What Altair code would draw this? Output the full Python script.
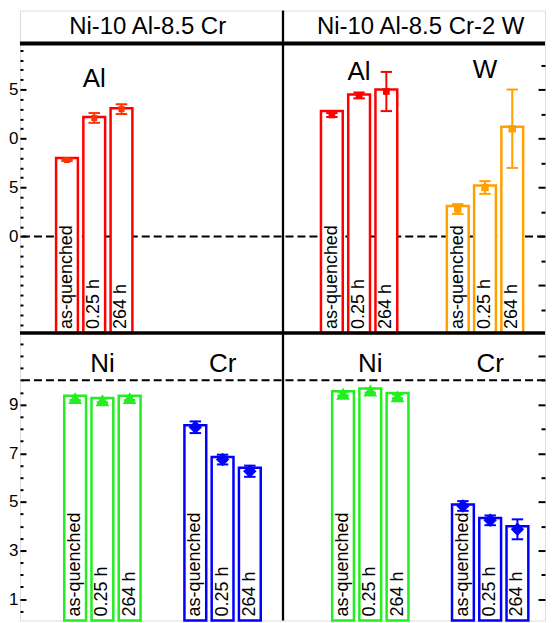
import altair as alt
import pandas as pd

# ---------------- data ----------------
alloys = ["Ni-10 Al-8.5 Cr", "Ni-10 Al-8.5 Cr-2 W"]
times = ["as-quenched", "0.25 h", "264 h"]

# Ni-10Al-8.5Cr : Al
al_cr_bar = [1.80, 2.22, 2.31]
al_cr_mean = [1.78, 2.21, 2.30]
al_cr_err = [0.01, 0.05, 0.05]
# Ni-10Al-8.5Cr-2W : Al, W
al_w_bar = [2.28, 2.45, 2.50]
al_w_mean = [2.24, 2.44, 2.48]
al_w_err = [0.02, 0.03, 0.20]
w_w_bar = [1.31, 1.52, 2.12]
w_w_mean = [1.28, 1.50, 2.10]
w_w_err = [0.05, 0.065, 0.40]
# Ni-10Al-8.5Cr : Ni, Cr
ni_cr_bar = [0.937, 0.927, 0.937]
ni_cr_mean = [0.927, 0.918, 0.927]
ni_cr_err = [0.008, 0.008, 0.008]
cr_cr_bar = [0.815, 0.685, 0.640]
cr_cr_mean = [0.807, 0.674, 0.626]
cr_cr_err = [0.024, 0.020, 0.023]
# Ni-10Al-8.5Cr-2W : Ni, Cr
ni_w_bar = [0.955, 0.966, 0.948]
ni_w_mean = [0.945, 0.958, 0.934]
ni_w_err = [0.008, 0.008, 0.008]
cr_w_bar = [0.489, 0.434, 0.400]
cr_w_mean = [0.483, 0.424, 0.387]
cr_w_err = [0.020, 0.020, 0.041]

top_tick_values = [0.1, 0.2, 0.3, 0.4, 0.5, 0.6, 0.7, 0.8, 0.9, 1.0, 1.1, 1.2, 1.3, 1.4,
                   1.5, 1.6, 1.7, 1.8, 1.9, 2.0, 2.1, 2.2, 2.3, 2.4, 2.5, 2.6, 2.7, 2.8, 2.9]
top_tick_labels = [1.0, 1.5, 2.0, 2.5]
top_right_ticks = [0.25, 0.5, 0.75, 1.0, 1.25, 1.5, 1.75, 2.0, 2.25, 2.5, 2.75]
top_right_major = [0.5, 1.0, 1.5, 2.0, 2.5]
bottom_tick_values = [0.05, 0.1, 0.15, 0.2, 0.25, 0.3, 0.35, 0.4, 0.45, 0.5, 0.55, 0.6,
                      0.65, 0.7, 0.75, 0.8, 0.85, 0.9, 0.95, 1.0, 1.05, 1.1, 1.15]
bottom_tick_labels = [0.1, 0.3, 0.5, 0.7, 0.9]
bottom_right_ticks = [0.1, 0.2, 0.3, 0.4, 0.5, 0.6, 0.7, 0.8, 0.9, 1.0, 1.1]
bottom_right_major = [0.1, 0.3, 0.5, 0.7, 0.9, 1.1]
reference_level = [1.0]

# ---------------- layout / style ----------------
W = 526
H_TITLE, H_TOP, H_BOT = 33, 290, 288
X_DOMAIN = [0.165, 19.432]
DIVIDER = 9.817
TITLE_X = [4.85, 14.87]
TOP_DOMAIN = [0.015, 2.97]
BOT_DOMAIN = [0.012, 1.195]
BAR_HALF = 0.40
CAP_HALF = 0.21
FONT = "Liberation Sans"

RED, ORANGE, GREEN, BLUE = "#ff0000", "#ffa000", "#22ee22", "#0000ff"

top_groups = [
    # element, bars, means, errs, color, error colour, shape, size, first slot, label y
    ("Al", al_cr_bar, al_cr_mean, al_cr_err, RED, "#ff3300", "square", 36, 1.89, 2.61),
    ("Al", al_w_bar, al_w_mean, al_w_err, RED, RED, "square", 45, 11.61, 2.68),
    ("W", w_w_bar, w_w_mean, w_w_err, ORANGE, ORANGE, "square", 55, 16.23, 2.70),
]
bottom_groups = [
    ("Ni", ni_cr_bar, ni_cr_mean, ni_cr_err, GREEN, GREEN, "triangle-up", 190, 2.19, 1.066),
    ("Cr", cr_cr_bar, cr_cr_mean, cr_cr_err, BLUE, BLUE, "diamond", 180, 6.60, 1.066),
    ("Ni", ni_w_bar, ni_w_mean, ni_w_err, GREEN, GREEN, "triangle-up", 190, 12.02, 1.066),
    ("Cr", cr_w_bar, cr_w_mean, cr_w_err, BLUE, BLUE, "diamond", 180, 16.42, 1.066),
]


def build(groups):
    rows, labels = [], []
    for el, bars, means, errs, col, ecol, shape, size, start, ly in groups:
        for i, t in enumerate(times):
            xc = start + i
            rows.append(dict(element=el, time=t, xc=xc, x0=xc - BAR_HALF, x1=xc + BAR_HALF,
                             c0=xc - CAP_HALF, c1=xc + CAP_HALF, bar=bars[i], mean=means[i],
                             lo=means[i] - errs[i], hi=means[i] + errs[i], base=0.0,
                             color=col, ecolor=ecol, shape=shape, size=size))
        labels.append(dict(element=el, xc=start + 1, ly=ly))
    return pd.DataFrame(rows), pd.DataFrame(labels)


x_scale = alt.Scale(domain=X_DOMAIN, nice=False, zero=False)


def is_in(vals):
    return "(" + " || ".join(f"abs(datum.value - {v}) < 0.001" for v in vals) + ")"


def row_chart(groups, domain, tick_vals, tick_labels, right_ticks, right_major, height,
              top_rule_width):
    df, lab = build(groups)
    ys = alt.Scale(domain=domain, nice=False, zero=False, clamp=True)
    left_axis = alt.Axis(
        orient="left", values=tick_vals,
        labelExpr=f"{is_in(tick_labels)} ? slice(format(datum.value, '.1f'), -1) : ''",
        tickSize={"condition": {"test": is_in(tick_labels), "value": -6}, "value": -3},
        tickWidth=2, tickColor="black", domain=False, grid=False, labelFontSize=17,
        labelFont=FONT, labelColor="black", labelPadding=8, labelOverlap=False,
        labelFlush=False, title=None)
    right_axis = alt.Axis(
        orient="right", values=right_ticks, labels=False,
        tickSize={"condition": {"test": is_in(right_major), "value": -7}, "value": -4},
        tickWidth=2, tickColor="black", domain=False, grid=False, title=None)
    base = alt.Chart(df)
    ref = alt.Chart(pd.DataFrame({"y": reference_level})).mark_rule(
        color="black", strokeWidth=2, strokeDash=[8, 4]).encode(
        y=alt.Y("y:Q", scale=ys, axis=None))
    divider = alt.Chart(pd.DataFrame({"x": [DIVIDER]})).mark_rule(
        color="black", strokeWidth=2.3).encode(x=alt.X("x:Q", scale=x_scale, axis=None))
    bars = base.mark_rect(fill="white", strokeWidth=2.5).encode(
        x=alt.X("x0:Q", scale=x_scale, axis=None), x2="x1:Q",
        y=alt.Y("bar:Q", scale=ys, axis=left_axis), y2="base:Q",
        stroke=alt.Stroke("color:N", scale=None))
    tlabels = base.mark_text(angle=270, align="left", baseline="middle", dx=4,
                             fontSize=18, font=FONT, color="black").encode(
        x=alt.X("xc:Q", scale=x_scale, axis=None),
        y=alt.Y("base:Q", scale=ys, axis=None), text="time:N")
    ebar = base.mark_rule(strokeWidth=2).encode(
        x=alt.X("xc:Q", scale=x_scale, axis=None),
        y=alt.Y("lo:Q", scale=ys, axis=None), y2="hi:Q",
        color=alt.Color("ecolor:N", scale=None))
    cap_lo = base.mark_rule(strokeWidth=2).encode(
        x=alt.X("c0:Q", scale=x_scale, axis=None), x2="c1:Q",
        y=alt.Y("lo:Q", scale=ys, axis=None), color=alt.Color("ecolor:N", scale=None))
    cap_hi = base.mark_rule(strokeWidth=2).encode(
        x=alt.X("c0:Q", scale=x_scale, axis=None), x2="c1:Q",
        y=alt.Y("hi:Q", scale=ys, axis=None), color=alt.Color("ecolor:N", scale=None))
    marks = base.mark_point(filled=True, opacity=1).encode(
        x=alt.X("xc:Q", scale=x_scale, axis=None),
        y=alt.Y("mean:Q", scale=ys, axis=right_axis),
        color=alt.Color("ecolor:N", scale=None),
        shape=alt.Shape("shape:N", scale=None),
        size=alt.Size("size:Q", scale=None))
    elabels = alt.Chart(lab).mark_text(fontSize=26, font=FONT, color="black",
                                       align="center", baseline="middle").encode(
        x=alt.X("xc:Q", scale=x_scale, axis=None),
        y=alt.Y("ly:Q", scale=ys, axis=None), text="element:N")
    edge = alt.Chart(pd.DataFrame({"k": [0]})).mark_rule(
        color="black", strokeWidth=top_rule_width).encode(y=alt.value(0))
    return alt.layer(ref, divider, bars, tlabels, ebar, cap_lo, cap_hi, marks, elabels,
                     edge).properties(width=W, height=height)


title_df = pd.DataFrame({"alloy": alloys, "x": TITLE_X})
title_chart = alt.layer(
    alt.Chart(title_df).mark_text(fontSize=24, font=FONT, color="black",
                                  baseline="middle", align="center").encode(
        x=alt.X("x:Q", scale=x_scale, axis=None), y=alt.value(H_TITLE / 2 - 0.5),
        text="alloy:N"),
    alt.Chart(pd.DataFrame({"x": [DIVIDER]})).mark_rule(color="black", strokeWidth=2.3).encode(
        x=alt.X("x:Q", scale=x_scale, axis=None)),
).properties(width=W, height=H_TITLE)

top_chart = row_chart(top_groups, TOP_DOMAIN, top_tick_values, top_tick_labels,
                      top_right_ticks, top_right_major, H_TOP, 4)
bottom_chart = row_chart(bottom_groups, BOT_DOMAIN, bottom_tick_values, bottom_tick_labels,
                         bottom_right_ticks, bottom_right_major, H_BOT, 3.5)

chart = alt.vconcat(title_chart, top_chart, bottom_chart, spacing=0).properties(
    bounds="flush", padding={"left": 0, "top": 0, "right": 0, "bottom": 0}
).configure_view(stroke="black", strokeWidth=2.3).configure(font=FONT)

chart.save("out.html", embed_options={"renderer": "svg", "actions": False})
